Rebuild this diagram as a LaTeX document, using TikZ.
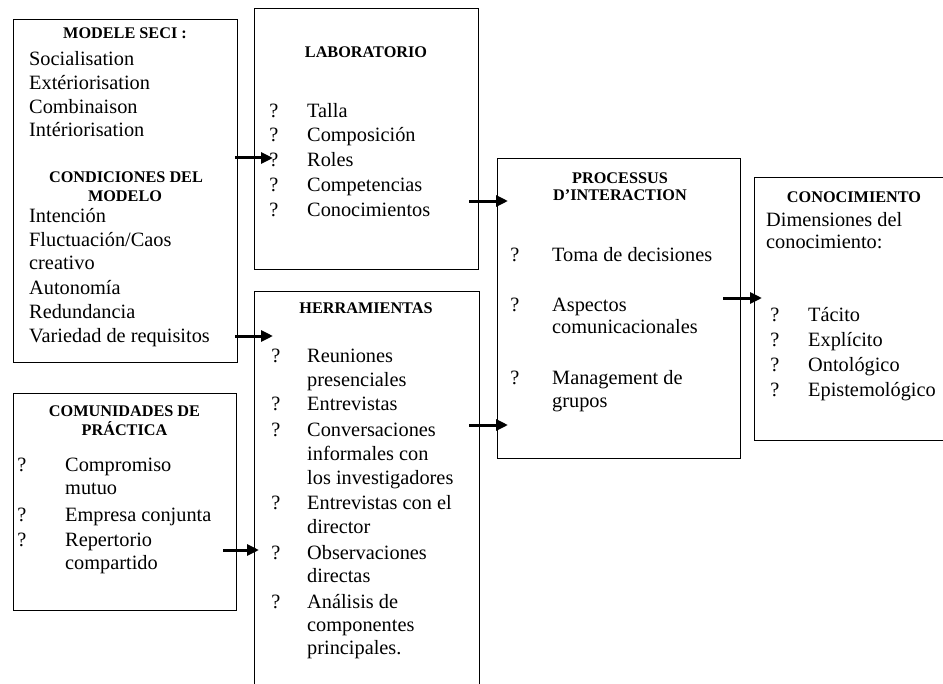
\documentclass[tikz,border=0pt]{standalone}
\usepackage{fontspec}
\setmainfont{Liberation Serif}
\usetikzlibrary{arrows.meta}
\tikzset{
  box/.style={draw, line width=1.4bp, rectangle, anchor=north west, inner sep=0pt},
  hdr/.style={font=\bfseries\fontsize{16.3}{18}\selectfont, anchor=base, inner sep=0pt},
  txt/.style={font=\fontsize{20.4}{24}\selectfont, anchor=base west, inner sep=0pt},
  qm/.style={font=\fontsize{20.4}{24}\selectfont, anchor=base, inner sep=0pt},
  arr/.style={line width=3bp, -{Triangle[length=12bp,width=11bp]}}
}
\begin{document}
\begin{tikzpicture}[x=1bp,y=-1bp]
\useasboundingbox (0,0) rectangle (943,684);
% boxes
\node[box, minimum width=224bp, minimum height=343bp] (seci) at (13,19) {};
\node[box, minimum width=224bp, minimum height=261bp] (lab) at (254,8) {};
\node[box, minimum width=225bp, minimum height=409bp] (herr) at (254,291) {};
\node[box, minimum width=223bp, minimum height=217bp] (com) at (13,393) {};
\node[box, minimum width=243bp, minimum height=300bp] (proc) at (497,158) {};
\node[box, minimum width=200bp, minimum height=263bp] (conoc) at (754,177) {};
% box 1
\node[hdr] (h1) at (125,38.5) {MODELE SECI :};
\node[txt] (s1) at (29,65.5) {Socialisation};
\node[txt] (s2) at (29,89.5) {Extériorisation};
\node[txt] (s3) at (29,113.5) {Combinaison};
\node[txt] (s4) at (29,136.5) {Intériorisation};
\node[hdr] (h1b) at (126,182.5) {CONDICIONES DEL};
\node[hdr] (h1c) at (125,201.5) {MODELO};
\node[txt] (c1) at (29,222.5) {Intención};
\node[txt] (c2) at (29,246.5) {Fluctuación/Caos};
\node[txt] (c3) at (29,269.5) {creativo};
\node[txt] (c4) at (29,294.5) {Autonomía};
\node[txt] (c5) at (29,318.5) {Redundancia};
\node[txt] (c6) at (29,342.5) {Variedad de requisitos};
% box 2
\node[hdr] (h2) at (366,57.5) {LABORATORIO};
\node[qm] (q21) at (274,117.5) {?};
\node[txt] (l1) at (307,117.5) {Talla};
\node[qm] (q22) at (274,141.5) {?};
\node[txt] (l2) at (307,141.5) {Composición};
\node[qm] (q23) at (274,166.5) {?};
\node[txt] (l3) at (307,166.5) {Roles};
\node[qm] (q24) at (274,191.5) {?};
\node[txt] (l4) at (307,191.5) {Competencias};
\node[qm] (q25) at (274,216.5) {?};
\node[txt] (l5) at (307,216.5) {Conocimientos};
% box 3
\node[hdr] (h3) at (366,313.5) {HERRAMIENTAS};
\node[qm] (q31) at (276,362.5) {?};
\node[txt] (r1) at (307,362.5) {Reuniones};
\node[txt] (r1b) at (307,386.5) {presenciales};
\node[qm] (q32) at (276,410.5) {?};
\node[txt] (r2) at (307,410.5) {Entrevistas};
\node[qm] (q33) at (276,436.5) {?};
\node[txt] (r3) at (307,436.5) {Conversaciones};
\node[txt] (r3b) at (307,460.5) {informales con};
\node[txt] (r3c) at (307,484.5) {los investigadores};
\node[qm] (q34) at (276,509.5) {?};
\node[txt] (r4) at (307,509.5) {Entrevistas con el};
\node[txt] (r4b) at (307,533.5) {director};
\node[qm] (q35) at (276,559.5) {?};
\node[txt] (r5) at (307,559.5) {Observaciones};
\node[txt] (r5b) at (307,582.5) {directas};
\node[qm] (q36) at (276,608.5) {?};
\node[txt] (r6) at (307,608.5) {Análisis de};
\node[txt] (r6b) at (307,631.5) {componentes};
\node[txt] (r6c) at (307,654.5) {principales.};
% box 4
\node[hdr] (h4) at (124.5,416.5) {COMUNIDADES DE};
\node[hdr] (h4b) at (124.5,435.5) {PRÁCTICA};
\node[qm] (q41) at (22,471.5) {?};
\node[txt] (m1) at (65,471.5) {Compromiso};
\node[txt] (m1b) at (65,494.5) {mutuo};
\node[qm] (q42) at (22,521.5) {?};
\node[txt] (m2) at (65,521.5) {Empresa conjunta};
\node[qm] (q43) at (22,546.5) {?};
\node[txt] (m3) at (65,546.5) {Repertorio};
\node[txt] (m3b) at (65,569.5) {compartido};
% box 5
\node[hdr] (h5) at (620,183.5) {PROCESSUS};
\node[hdr] (h5b) at (620,200.5) {D’INTERACTION};
\node[qm] (q51) at (515,261.5) {?};
\node[txt] (p1) at (552,261.5) {Toma de decisiones};
\node[qm] (q52) at (515,311.5) {?};
\node[txt] (p2) at (552,311.5) {Aspectos};
\node[txt] (p2b) at (552,333.5) {comunicacionales};
\node[qm] (q53) at (515,384.5) {?};
\node[txt] (p3) at (552,384.5) {Management de};
\node[txt] (p3b) at (552,407.5) {grupos};
% box 6
\node[hdr] (h6) at (854,202.5) {CONOCIMIENTO};
\node[txt] (d1) at (766,226.5) {Dimensiones del};
\node[txt] (d1b) at (766,248.5) {conocimiento:};
\node[qm] (q61) at (775,321.5) {?};
\node[txt] (k1) at (808,321.5) {Tácito};
\node[qm] (q62) at (775,346.5) {?};
\node[txt] (k2) at (808,346.5) {Explícito};
\node[qm] (q63) at (775,371.5) {?};
\node[txt] (k3) at (808,371.5) {Ontológico};
\node[qm] (q64) at (775,396.5) {?};
\node[txt] (k4) at (808,396.5) {Epistemológico};
% arrows
\coordinate (a1s) at (235,158); \coordinate (a1e) at (273,158);
\coordinate (a2s) at (469,201); \coordinate (a2e) at (508,201);
\coordinate (a3s) at (235,336); \coordinate (a3e) at (273,336);
\coordinate (a4s) at (223,550); \coordinate (a4e) at (259,550);
\coordinate (a5s) at (469,425); \coordinate (a5e) at (508,425);
\coordinate (a6s) at (723,298); \coordinate (a6e) at (762,298);
\draw[arr] (a1s) -- (a1e);
\draw[arr] (a2s) -- (a2e);
\draw[arr] (a3s) -- (a3e);
\draw[arr] (a4s) -- (a4e);
\draw[arr] (a5s) -- (a5e);
\draw[arr] (a6s) -- (a6e);
\end{tikzpicture}
\end{document}
